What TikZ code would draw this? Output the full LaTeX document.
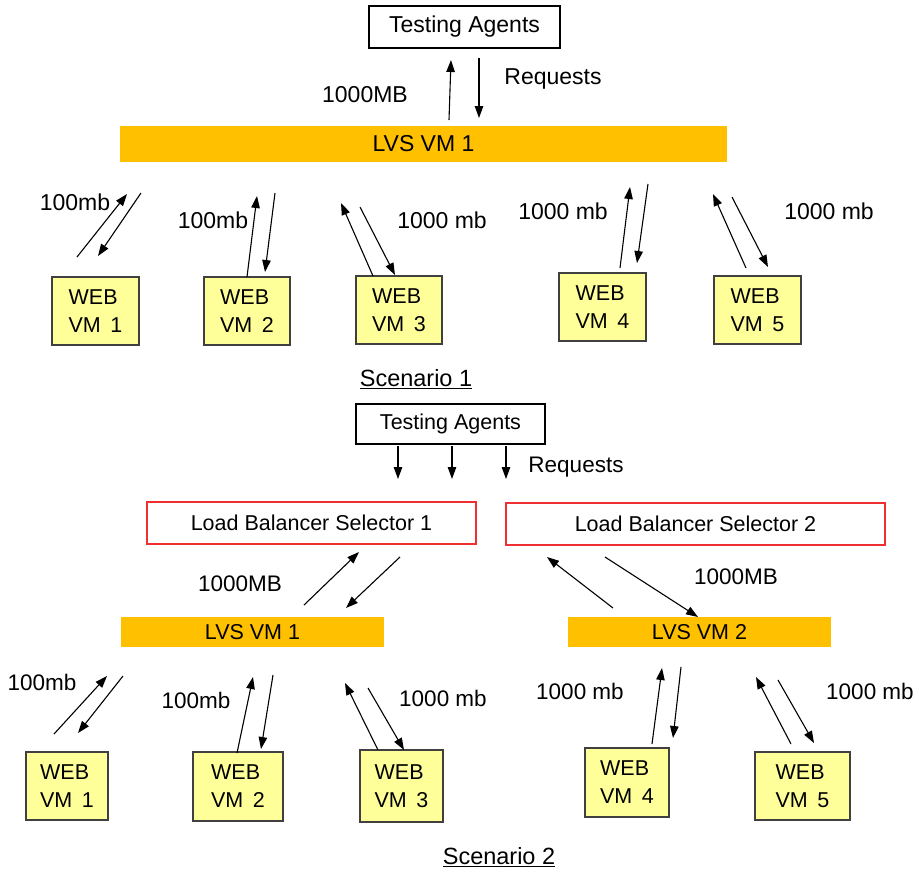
\documentclass[tikz,border=0pt]{standalone}
\usepackage{fontspec}
\setmainfont{Liberation Sans}
\usetikzlibrary{arrows.meta}
\definecolor{barcol}{HTML}{FFC000}
\definecolor{webcol}{HTML}{FFFF99}
\definecolor{lbred}{HTML}{F03030}
\definecolor{webedge}{HTML}{404040}
\begin{document}
\begin{tikzpicture}[x=1pt,y=-1pt,
  txtA/.style={font=\fontsize{23}{27}\selectfont},
  txtB/.style={font=\fontsize{21.5}{26}\selectfont},
  lbl/.style={txtA, inner sep=0},
  lblB/.style={font=\fontsize{22.5}{26}\selectfont, inner sep=0},
  plainbox/.style={draw=black, line width=1.2pt, fill=white, inner sep=0},
  lbsbox/.style={draw=lbred, line width=1.1pt, fill=white, inner sep=0, txtB},
  bar/.style={fill=barcol, inner sep=0},
  web/.style={draw=webedge, line width=1.5pt, fill=webcol, align=left, inner sep=0, font=\fontsize{21.5}{28}\selectfont},
  arr/.style={-{Triangle[length=12pt,width=8.5pt]}, line width=1.1pt},
  ttl/.style={font=\fontsize{23.5}{27}\selectfont, inner sep=0}
]
\useasboundingbox (0,0) rectangle (919,871);

% ---------------- Scenario 1 ----------------
\node[plainbox, txtA, minimum width=191pt, minimum height=42pt] (ta1) at (464.5,27) {Testing Agents};
\node[bar, txtA, minimum width=607pt, minimum height=36pt] (lvs1) at (423.5,144) {LVS VM 1};

\node[web, minimum width=87pt, minimum height=68pt] (w1) at (95.5,311) {WEB\\VM\, 1};
\node[web, minimum width=86pt, minimum height=68pt] (w2) at (247,311) {WEB\\VM\, 2};
\node[web, minimum width=86pt, minimum height=68pt] (w3) at (399,310) {WEB\\VM\, 3};
\node[web, minimum width=87pt, minimum height=68pt] (w4) at (602.5,307) {WEB\\VM\, 4};
\node[web, minimum width=87pt, minimum height=68pt] (w5) at (757.5,310) {WEB\\VM\, 5};

\node[lbl] (l1a) at (365,95) {1000MB};
\node[lbl] (l1b) at (553,79) {Requests};
\node[lbl] (l1c) at (75,202) {100mb};
\node[lbl] (l1d) at (213,220) {100mb};
\node[lbl] (l1e) at (442,220) {1000 mb};
\node[lbl] (l1f) at (563,211) {1000 mb};
\node[lbl] (l1g) at (829,211) {1000 mb};
\node[ttl] (sc1) at (416,379) {\underline{Scenario 1}};

\coordinate (a1s) at (449,120); \coordinate (a1e) at (451,60);
\coordinate (a2s) at (479,58);  \coordinate (a2e) at (479,118);
\coordinate (b1s) at (77,257);  \coordinate (b1e) at (127,194);
\coordinate (b2s) at (141,193); \coordinate (b2e) at (98,256);
\coordinate (c1s) at (247,277); \coordinate (c1e) at (257,196);
\coordinate (c2s) at (275,193); \coordinate (c2e) at (265,272);
\coordinate (d1s) at (373,276); \coordinate (d1e) at (341,203);
\coordinate (d2s) at (360,207); \coordinate (d2e) at (395,275);
\coordinate (e1s) at (620,268); \coordinate (e1e) at (630,187);
\coordinate (e2s) at (648,184); \coordinate (e2e) at (637,263);
\coordinate (f1s) at (746,268); \coordinate (f1e) at (713,194);
\coordinate (f2s) at (732,197); \coordinate (f2e) at (768,267);
\foreach \p in {a,b,c,d,e,f}{
  \draw[arr] (\p1s) -- (\p1e);
  \draw[arr] (\p2s) -- (\p2e);
}

% ---------------- Scenario 2 ----------------
\node[plainbox, txtB, minimum width=189pt, minimum height=40pt] (ta2) at (450.5,424) {Testing Agents};
\node[lblB] (l2r) at (576,467) {Requests};
\coordinate (r1s) at (398,446); \coordinate (r1e) at (398,479);
\coordinate (r2s) at (452,446); \coordinate (r2e) at (452,479);
\coordinate (r3s) at (506,446); \coordinate (r3e) at (506,479);
\foreach \i in {1,2,3}{ \draw[arr] (r\i s) -- (r\i e); }

\node[lbsbox, minimum width=329pt, minimum height=42pt] (lbs1) at (311.5,523) {Load Balancer Selector 1};
\node[lbsbox, minimum width=379pt, minimum height=42pt] (lbs2) at (695.5,524) {Load Balancer Selector 2};

\node[bar, txtB, minimum width=263pt, minimum height=30pt] (lvs2a) at (252.5,632) {LVS VM 1};
\node[bar, txtB, minimum width=263pt, minimum height=30pt] (lvs2b) at (699.5,632) {LVS VM 2};

\node[lblB] (l2a) at (240,584) {1000MB};
\node[lblB] (l2b) at (736,577) {1000MB};
\coordinate (g1s) at (304,605); \coordinate (g1e) at (359,552);
\coordinate (g2s) at (400,557); \coordinate (g2e) at (346,608);
\coordinate (h1s) at (613,608); \coordinate (h1e) at (547,557);
\coordinate (h2s) at (605,557); \coordinate (h2e) at (698,617);

\node[web, minimum width=82pt, minimum height=68pt] (v1) at (67,786) {WEB\\VM\, 1};
\node[web, minimum width=90pt, minimum height=69pt] (v2) at (238,786.5) {WEB\\VM\, 2};
\node[web, minimum width=83pt, minimum height=72pt] (v3) at (401.5,786) {WEB\\VM\, 3};
\node[web, minimum width=84pt, minimum height=69pt] (v4) at (627,782.5) {WEB\\VM\, 4};
\node[web, minimum width=95pt, minimum height=68pt] (v5) at (802.5,786) {WEB\\VM\, 5};

\node[lblB] (l2c) at (42,682) {100mb};
\node[lblB] (l2d) at (196,700) {100mb};
\node[lblB] (l2e) at (443,698) {1000 mb};
\node[lblB] (l2f) at (580,691) {1000 mb};
\node[lblB] (l2g) at (870,691) {1000 mb};
\node[ttl] (sc2) at (499,857) {\underline{Scenario 2}};

\coordinate (i1s) at (54,734);  \coordinate (i1e) at (107,676);
\coordinate (i2s) at (123,676); \coordinate (i2e) at (78,733);
\coordinate (j1s) at (237,753); \coordinate (j1e) at (253,677);
\coordinate (j2s) at (273,675); \coordinate (j2e) at (261,749);
\coordinate (k1s) at (378,750); \coordinate (k1e) at (345,683);
\coordinate (k2s) at (368,688); \coordinate (k2e) at (404,750);
\coordinate (m1s) at (652,744); \coordinate (m1e) at (662,668);
\coordinate (m2s) at (681,667); \coordinate (m2e) at (673,738);
\coordinate (n1s) at (791,744); \coordinate (n1e) at (756,677);
\coordinate (n2s) at (778,680); \coordinate (n2e) at (814,743);
\foreach \p in {g,h,i,j,k,m,n}{
  \draw[arr] (\p1s) -- (\p1e);
  \draw[arr] (\p2s) -- (\p2e);
}
\end{tikzpicture}
\end{document}
